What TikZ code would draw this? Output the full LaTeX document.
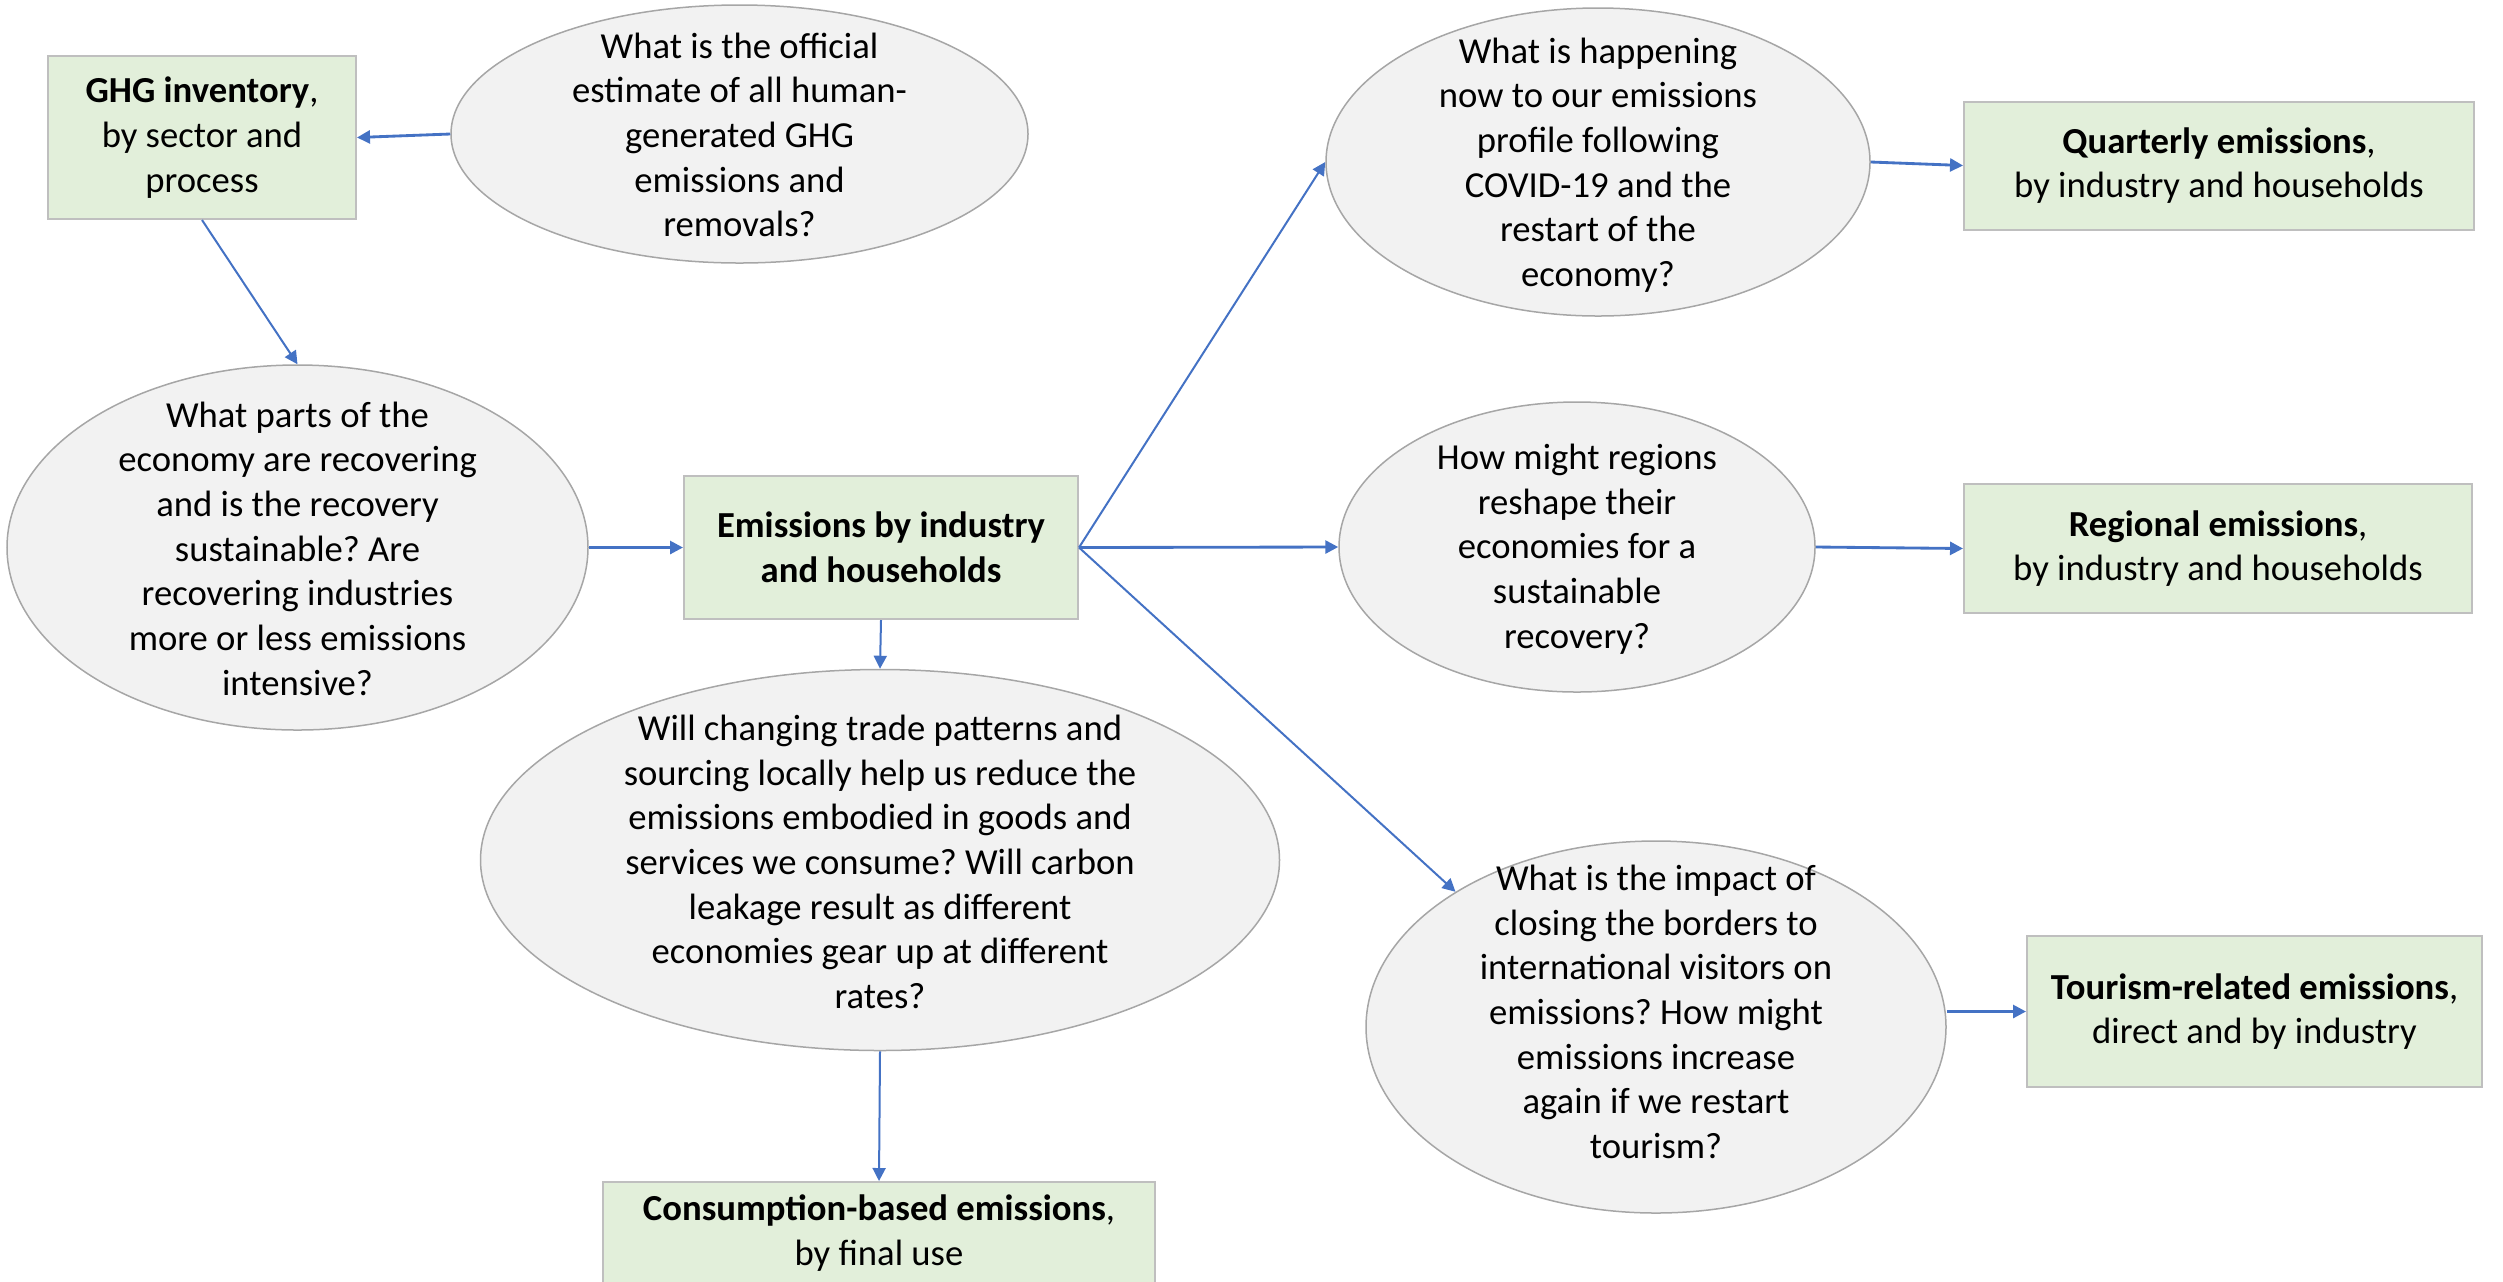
\documentclass[tikz,border=0pt]{standalone}
\usepackage{fontspec}
\setmainfont{Carlito}
\usetikzlibrary{shapes.geometric,arrows.meta}
\definecolor{qfill}{HTML}{F2F2F2}
\definecolor{qline}{HTML}{A6A6A6}
\definecolor{bfill}{HTML}{E2EFDA}
\definecolor{bline}{HTML}{BFBFBF}
\definecolor{arr}{HTML}{4472C4}
\frenchspacing
\begin{document}
\begin{tikzpicture}[x=0.3pt,y=-0.3pt,
  sz/.style 2 args={minimum width=#1*0.3pt, minimum height=#2*0.3pt},
  qell/.style={ellipse, draw=qline, line width=0.45pt, fill=qfill, inner sep=0pt},
  gbox/.style={rectangle, draw=bline, line width=0.6pt, fill=bfill, inner sep=0pt, align=center, font=\fontsize{11}{13.4}\selectfont},
  qtxt/.style={align=center, inner sep=0pt, font=\fontsize{11}{13.4}\selectfont},
  conn/.style={draw=arr, line width=0.6pt, -{Triangle[length=3.9pt,width=3.9pt]}},
  connb/.style={draw=arr, line width=0.85pt, -{Triangle[length=3.9pt,width=3.9pt]}}]
\useasboundingbox (0,0) rectangle (2503,1281);

% question ellipses
\node[qell, sz={577}{258}] (e1) at (739.5,134) {};
\node[qtxt] (e1t) at (739.5,135) {What is the official\\estimate of all human-\\generated GHG\\emissions and\\removals?};
\node[qell, sz={581}{365}] (e2) at (297.5,547.5) {};
\node[qtxt] (e2t) at (297.5,548.5) {What parts of the\\economy are recovering\\and is the recovery\\sustainable? Are\\recovering industries\\more or less emissions\\intensive?};
\node[qell, sz={799}{381}] (e3) at (880,860) {};
\node[qtxt] (e3t) at (880,862) {Will changing trade patterns and\\sourcing locally help us reduce the\\emissions embodied in goods and\\services we consume? Will carbon\\leakage result as different\\economies gear up at different\\rates?};
\node[qell, sz={544}{308}] (e4) at (1598,162) {};
\node[qtxt] (e4t) at (1598,165) {What is happening\\now to our emissions\\profile following\\COVID-19 and the\\restart of the\\economy?};
\node[qell, sz={476}{290}] (e5) at (1577,547) {};
\node[qtxt] (e5t) at (1577,549) {How might regions\\reshape their\\economies for a\\sustainable\\recovery?};
\node[qell, sz={580}{372}] (e6) at (1656,1027) {};
\node[qtxt] (e6t) at (1656,1012) {What is the impact of\\closing the borders to\\international visitors on\\emissions? How might\\emissions increase\\again if we restart\\tourism?};

% data boxes
\node[gbox, sz={308}{163}] (ghg) at (202,137.5) {\textbf{GHG inventory},\\by sector and\\process};
\node[gbox, sz={394}{143}] (em) at (881,547.5) {\textbf{Emissions by industry}\\\textbf{and households}};
\node[gbox, sz={552}{102}] (cons) at (879,1233) {\textbf{Consumption-based emissions},\\by final use};
\node[gbox, sz={510}{128}] (qe) at (2219,165.5) {\textbf{Quarterly emissions},\\by industry and households};
\node[gbox, sz={508}{129}] (re) at (2218,548.5) {\textbf{Regional emissions},\\by industry and households};
\node[gbox, sz={455}{151}] (te) at (2254.5,1011.5) {\textbf{Tourism-related emissions},\\direct and by industry};

% connectors
\draw[connb] (e1.west) -- (ghg.east);
\draw[conn] (ghg.south) -- (e2.north);
\draw[connb] (e2.east) -- (em.west);
\draw[conn] (em.south) -- (e3.north);
\draw[conn] (e3.south) -- (cons.north);
\draw[conn] (em.east) -- (e4.west);
\draw[connb] (em.east) -- (e5.west);
\draw[conn] (em.east) -- (e6.146);
\draw[connb] (e4.east) -- (qe.west);
\draw[connb] (e5.east) -- (re.west);
\draw[connb] (e6.east |- te.west) -- (te.west);
\end{tikzpicture}
\end{document}
